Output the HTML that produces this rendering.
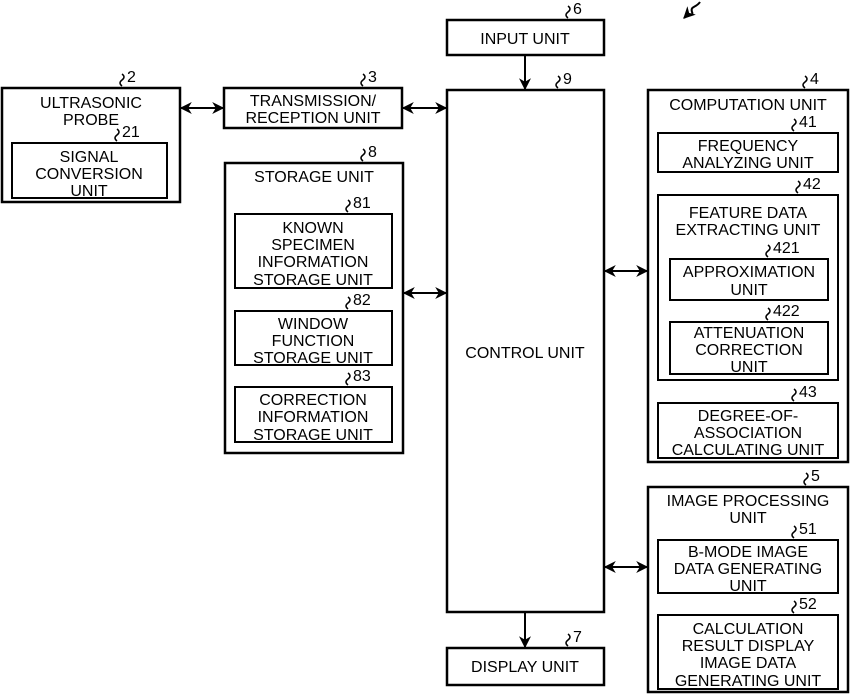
<!DOCTYPE html>
<html><head><meta charset="utf-8"><style>
html,body{margin:0;padding:0;background:#fff}
svg{display:block}
text{font-family:"Liberation Sans",sans-serif;font-size:16px;fill:#000}
</style></head><body>
<svg width="850" height="694" viewBox="0 0 850 694" xmlns="http://www.w3.org/2000/svg">
<defs>
<marker id="a" viewBox="0 0 10 10" refX="9" refY="5" markerWidth="6" markerHeight="6" orient="auto-start-reverse"><path d="M0,0 L10,5 L0,10 L3,5 z" fill="#000"/></marker>
</defs>
<g fill="none" stroke="#000" stroke-width="2.5">
<rect x="447" y="20" width="157" height="35"/>
<rect x="2" y="88" width="178" height="114"/>
<rect x="12" y="143" width="155" height="55" stroke-width="2"/>
<rect x="224" y="88" width="178" height="40"/>
<rect x="447" y="90" width="157" height="522"/>
<rect x="225" y="163" width="178" height="290"/>
<rect x="235" y="214" width="157" height="74" stroke-width="2"/>
<rect x="235" y="311" width="157" height="54" stroke-width="2"/>
<rect x="235" y="387" width="157" height="55" stroke-width="2"/>
<rect x="648" y="90" width="200" height="372"/>
<rect x="658" y="133" width="180" height="39" stroke-width="2"/>
<rect x="658" y="195" width="180" height="185" stroke-width="2"/>
<rect x="670" y="259" width="158" height="41" stroke-width="2"/>
<rect x="670" y="322" width="158" height="52" stroke-width="2"/>
<rect x="658" y="403" width="180" height="55" stroke-width="2"/>
<rect x="648" y="487" width="200" height="205"/>
<rect x="658" y="540" width="180" height="53" stroke-width="2"/>
<rect x="658" y="615" width="180" height="74" stroke-width="2"/>
<rect x="447" y="648" width="157" height="37"/>
</g>
<g stroke="#000" stroke-width="2" fill="none" marker-start="url(#a)" marker-end="url(#a)">
<line x1="181" y1="108" x2="223" y2="108"/>
<line x1="403" y1="108" x2="446" y2="108"/>
<line x1="404" y1="293" x2="446" y2="293"/>
<line x1="605" y1="271" x2="647" y2="271"/>
<line x1="605" y1="567" x2="647" y2="567"/>
</g>
<g stroke="#000" stroke-width="2" fill="none" marker-end="url(#a)">
<line x1="525" y1="56" x2="525" y2="89"/>
<line x1="525" y1="613" x2="525" y2="647"/>
<path d="M700,2 C696,8 690,6 692,12 C694,16 688,14 684,18"/>
</g>
<g stroke="#000" stroke-width="1.5" fill="none">
<path d="M568,18 q-4,-3 0,-6 q4,-3 0,-6"/>
<path d="M122,86 q-4,-3 0,-6 q4,-3 0,-6"/>
<path d="M117,141 q-4,-3 0,-6 q4,-3 0,-6"/>
<path d="M363,86 q-4,-3 0,-6 q4,-3 0,-6"/>
<path d="M363,161 q-4,-3 0,-6 q4,-3 0,-6"/>
<path d="M348,212 q-4,-3 0,-6 q4,-3 0,-6"/>
<path d="M348,309 q-4,-3 0,-6 q4,-3 0,-6"/>
<path d="M348,385 q-4,-3 0,-6 q4,-3 0,-6"/>
<path d="M558,88 q-4,-3 0,-6 q4,-3 0,-6"/>
<path d="M805,88 q-4,-3 0,-6 q4,-3 0,-6"/>
<path d="M794,131 q-4,-3 0,-6 q4,-3 0,-6"/>
<path d="M798,193 q-4,-3 0,-6 q4,-3 0,-6"/>
<path d="M768,257 q-4,-3 0,-6 q4,-3 0,-6"/>
<path d="M768,320 q-4,-3 0,-6 q4,-3 0,-6"/>
<path d="M794,401 q-4,-3 0,-6 q4,-3 0,-6"/>
<path d="M806,485 q-4,-3 0,-6 q4,-3 0,-6"/>
<path d="M794,538 q-4,-3 0,-6 q4,-3 0,-6"/>
<path d="M794,613 q-4,-3 0,-6 q4,-3 0,-6"/>
<path d="M568,646 q-4,-3 0,-6 q4,-3 0,-6"/>
</g>
<g>
<text x="573" y="14">6</text>
<text x="127" y="82">2</text>
<text x="122" y="137">21</text>
<text x="368" y="82">3</text>
<text x="368" y="157">8</text>
<text x="353" y="208">81</text>
<text x="353" y="305">82</text>
<text x="353" y="381">83</text>
<text x="563" y="84">9</text>
<text x="810" y="84">4</text>
<text x="799" y="127">41</text>
<text x="803" y="189">42</text>
<text x="773" y="253">421</text>
<text x="773" y="316">422</text>
<text x="799" y="397">43</text>
<text x="811" y="481">5</text>
<text x="799" y="534">51</text>
<text x="799" y="609">52</text>
<text x="573" y="642">7</text>
</g>
<g text-anchor="middle">
<text x="525" y="44">INPUT UNIT</text>
<text x="91" y="108">ULTRASONIC</text>
<text x="91" y="125">PROBE</text>
<text x="89" y="162">SIGNAL</text>
<text x="89" y="179">CONVERSION</text>
<text x="89" y="196">UNIT</text>
<text x="313" y="106">TRANSMISSION/</text>
<text x="313" y="123">RECEPTION UNIT</text>
<text x="314" y="182">STORAGE UNIT</text>
<text x="313" y="233">KNOWN</text>
<text x="313" y="250">SPECIMEN</text>
<text x="313" y="267">INFORMATION</text>
<text x="313" y="285">STORAGE UNIT</text>
<text x="313" y="329">WINDOW</text>
<text x="313" y="346">FUNCTION</text>
<text x="313" y="363">STORAGE UNIT</text>
<text x="313" y="405">CORRECTION</text>
<text x="313" y="422">INFORMATION</text>
<text x="313" y="440">STORAGE UNIT</text>
<text x="525" y="358">CONTROL UNIT</text>
<text x="748" y="110">COMPUTATION UNIT</text>
<text x="748" y="151">FREQUENCY</text>
<text x="748" y="168">ANALYZING UNIT</text>
<text x="748" y="218">FEATURE DATA</text>
<text x="748" y="235">EXTRACTING UNIT</text>
<text x="749" y="277">APPROXIMATION</text>
<text x="749" y="295">UNIT</text>
<text x="749" y="338">ATTENUATION</text>
<text x="749" y="355">CORRECTION</text>
<text x="749" y="372">UNIT</text>
<text x="748" y="421">DEGREE-OF-</text>
<text x="748" y="438">ASSOCIATION</text>
<text x="748" y="455">CALCULATING UNIT</text>
<text x="748" y="506">IMAGE PROCESSING</text>
<text x="748" y="523">UNIT</text>
<text x="748" y="557">B-MODE IMAGE</text>
<text x="748" y="574">DATA GENERATING</text>
<text x="748" y="591">UNIT</text>
<text x="748" y="634">CALCULATION</text>
<text x="748" y="651">RESULT DISPLAY</text>
<text x="748" y="668">IMAGE DATA</text>
<text x="748" y="686">GENERATING UNIT</text>
<text x="525" y="672">DISPLAY UNIT</text>
</g>
</svg>
</body></html>
